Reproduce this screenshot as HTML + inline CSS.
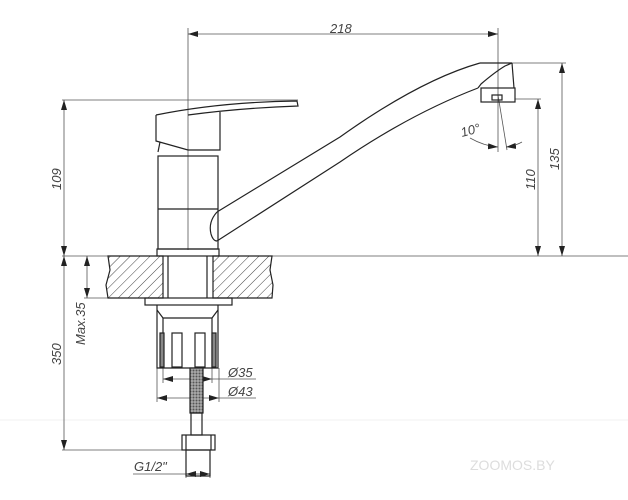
<!DOCTYPE html>
<html><head><meta charset="utf-8"><style>
html,body{margin:0;padding:0;background:#fff;}
svg{display:block;}
text{font-family:"Liberation Sans",sans-serif;font-style:italic;fill:#444;font-size:13px;}
</style></head><body>
<svg width="628" height="500" viewBox="0 0 628 500" xmlns="http://www.w3.org/2000/svg">
<defs>
<pattern id="h" width="7" height="7" patternUnits="userSpaceOnUse" patternTransform="rotate(45)">
<line x1="0" y1="0" x2="0" y2="7" stroke="#444" stroke-width="1"/>
</pattern>
<pattern id="b" width="3" height="3" patternUnits="userSpaceOnUse">
<rect width="3" height="3" fill="#aaa"/><circle cx="1.5" cy="1.5" r="1" fill="#555"/>
</pattern>
<marker id="a" viewBox="0 0 10 6" refX="10" refY="3" markerWidth="10" markerHeight="6" orient="auto-start-reverse" markerUnits="userSpaceOnUse">
<path d="M0,0 L10,3 L0,6 z" fill="#222"/>
</marker>
</defs>
<g fill="none" stroke="#555" stroke-width="0.8">
<line x1="62" y1="256" x2="628" y2="256"/>
<line x1="62" y1="100" x2="298" y2="100"/>
<line x1="188" y1="28" x2="188" y2="250"/>
<line x1="498" y1="28" x2="498" y2="152"/>
<line x1="508" y1="63" x2="566" y2="63"/>
<line x1="515" y1="99" x2="541" y2="99"/>
<line x1="62" y1="450" x2="190" y2="450"/>
<line x1="84" y1="298" x2="110" y2="298"/>
<line x1="0" y1="420" x2="628" y2="420" stroke="#eee"/>
<line x1="188" y1="34" x2="498" y2="34" marker-start="url(#a)" marker-end="url(#a)"/>
<line x1="64" y1="100" x2="64" y2="256" marker-start="url(#a)" marker-end="url(#a)"/>
<line x1="562" y1="63" x2="562" y2="256" marker-start="url(#a)" marker-end="url(#a)"/>
<line x1="538" y1="99" x2="538" y2="256" marker-start="url(#a)" marker-end="url(#a)"/>
<line x1="64" y1="256" x2="64" y2="450" marker-start="url(#a)" marker-end="url(#a)"/>
<line x1="87" y1="256" x2="87" y2="298" marker-start="url(#a)" marker-end="url(#a)"/>
<line x1="163" y1="379" x2="212" y2="379" marker-start="url(#a)" marker-end="url(#a)"/>
<line x1="212" y1="379" x2="256" y2="379"/>
<line x1="157" y1="398" x2="219" y2="398" marker-start="url(#a)" marker-end="url(#a)"/>
<line x1="219" y1="398" x2="256" y2="398"/>
<line x1="157" y1="368" x2="157" y2="402"/><line x1="219" y1="368" x2="219" y2="402"/>
<line x1="163" y1="368" x2="163" y2="383"/><line x1="212" y1="368" x2="212" y2="383"/>
<line x1="186" y1="452" x2="186" y2="478"/><line x1="210" y1="452" x2="210" y2="478"/>
<line x1="133" y1="474" x2="210" y2="474"/>
<line x1="186" y1="474" x2="210" y2="474" marker-start="url(#a)" marker-end="url(#a)"/>
<line x1="498" y1="95" x2="507" y2="150"/>
<path d="M470,138 Q484,146 498,147" marker-end="url(#a)"/>
<path d="M522,142 Q515,146 506,147" marker-end="url(#a)"/>
</g>
<g fill="none" stroke="#222" stroke-width="1.2">
<path d="M156,115 Q220,102 297,101 L298,106 Q240,108 188,115"/>
<path d="M156,115 L156,141 L188,150 L220,150 L220,112"/>
<line x1="160" y1="142" x2="158" y2="152"/>
<rect x="158" y="156" width="60" height="93"/>
<line x1="158" y1="209" x2="218" y2="209"/>
<rect x="157" y="249" width="62" height="7"/>
<!-- spout -->
<path d="M217,212 L340,137 Q420,80 480,63"/>
<path d="M217,241 L340,162 Q410,114 478,88"/>
<path d="M217,212 Q208,222 211,234 Q213,241 217,241"/>
<path d="M478,88 L481,84 Q495,72 505,66 L512,63 L480,63"/>
<path d="M512,63 L514,88"/>
<rect x="481" y="88" width="34" height="14"/>
<rect x="492" y="95" width="10" height="5"/>
<!-- counter -->
<path d="M108,256 L110,270 L106,285 L108,298 L163,298 L163,256 Z" fill="url(#h)"/>
<path d="M213,256 L272,256 L270,270 L273,285 L272,298 L213,298 Z" fill="url(#h)"/>
<line x1="168" y1="256" x2="168" y2="298"/><line x1="207" y1="256" x2="207" y2="298"/>
<rect x="145" y="298" width="87" height="7"/>
<path d="M157,305 L157,368 L218,368 L218,305"/>
<path d="M157,310 L163,318 L212,318 L218,310"/>
<line x1="163" y1="318" x2="163" y2="368"/><line x1="212" y1="318" x2="212" y2="368"/>
<rect x="160" y="333" width="4" height="34" fill="#888"/>
<rect x="212" y="333" width="4" height="34" fill="#888"/>
<rect x="172" y="333" width="10" height="34"/>
<rect x="195" y="333" width="10" height="34"/>
<rect x="190" y="368" width="13" height="45" fill="url(#b)"/>
<rect x="191" y="413" width="11" height="22"/>
<rect x="182" y="435" width="33" height="15"/>
<line x1="186" y1="435" x2="186" y2="450"/><line x1="211" y1="435" x2="211" y2="450"/>
<rect x="186" y="450" width="24" height="26"/>
</g>
<text x="330" y="33">218</text>
<text transform="translate(61,190) rotate(-90)">109</text>
<text transform="translate(61,365) rotate(-90)">350</text>
<text transform="translate(85,345) rotate(-90)">Max.35</text>
<text transform="translate(559,170) rotate(-90)">135</text>
<text transform="translate(535,190) rotate(-90)">110</text>
<text x="462" y="137" transform="rotate(-15 462 137)">10°</text>
<text x="228" y="377">Ø35</text>
<text x="228" y="396">Ø43</text>
<text x="134" y="471">G1/2"</text>
<text x="470" y="470" style="fill:#ddd;font-size:14px;font-style:normal">ZOOMOS.BY</text>
</svg>
</body></html>
